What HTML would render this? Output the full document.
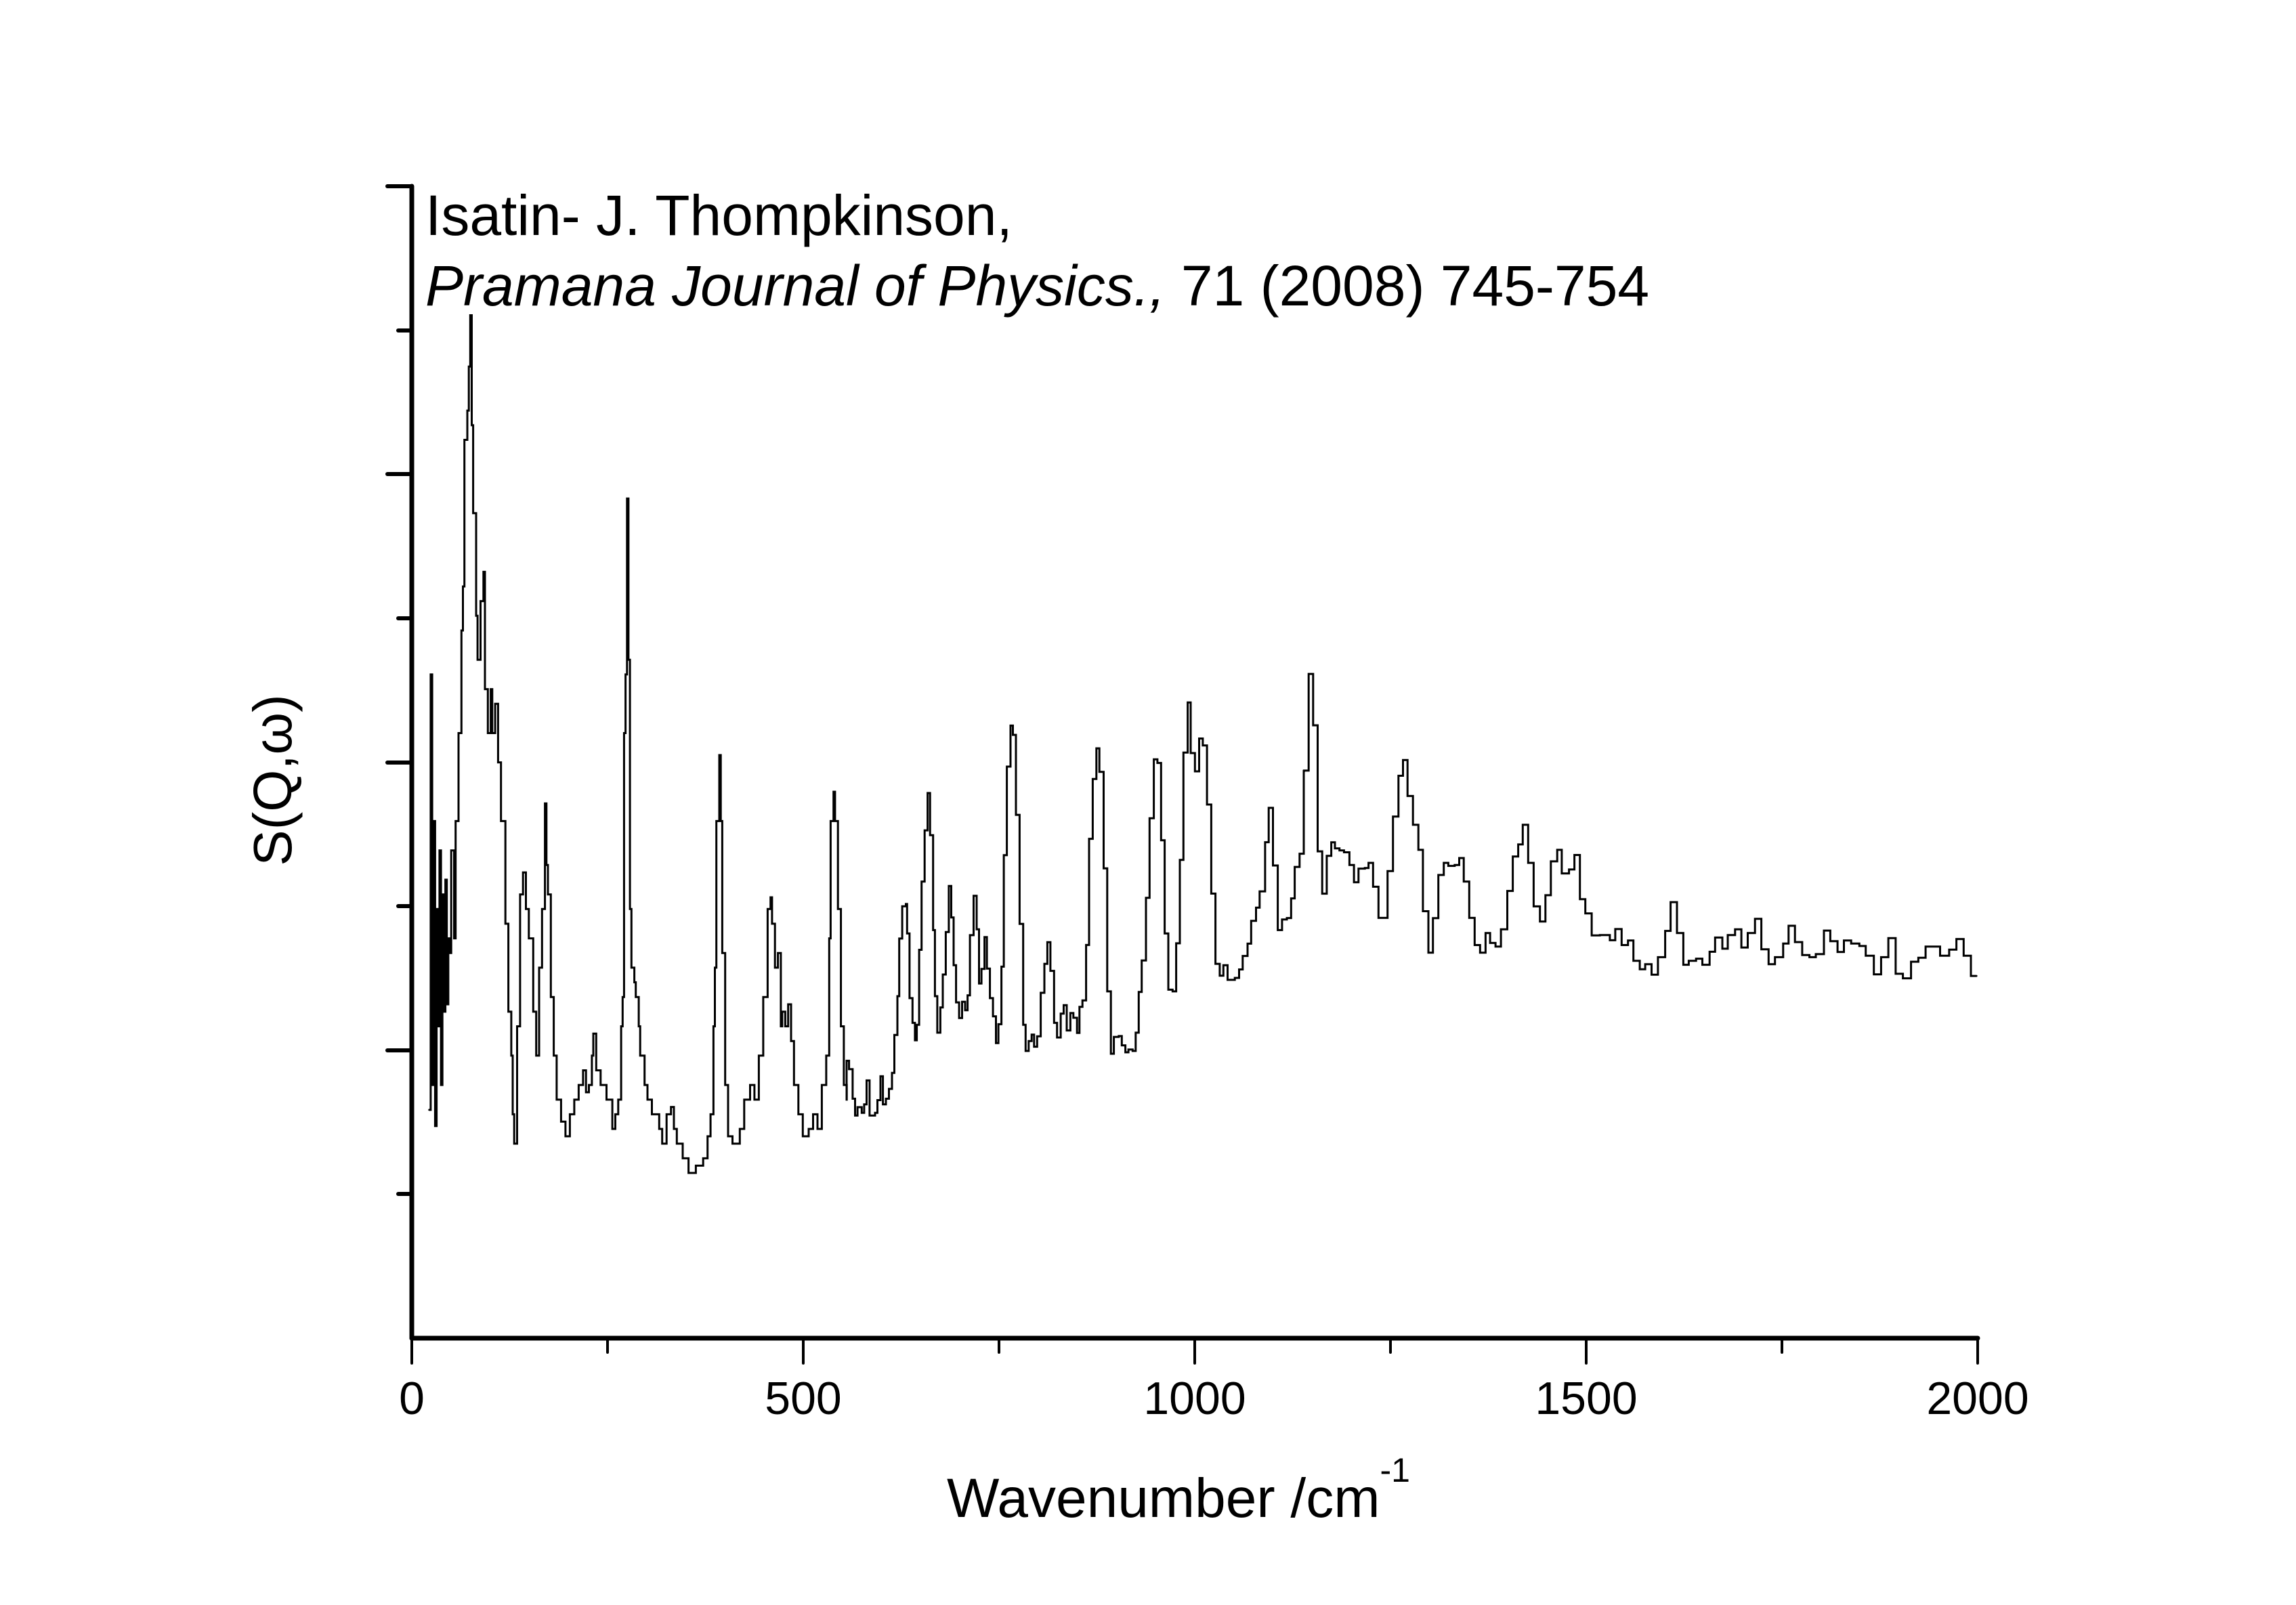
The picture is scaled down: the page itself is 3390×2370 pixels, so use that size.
<!DOCTYPE html>
<html><head><meta charset="utf-8"><style>
html,body{margin:0;padding:0;background:#fff}
svg{display:block}
text{font-family:"Liberation Sans",Arial,sans-serif;fill:#000}
</style></head><body>
<svg id="s" width="3390" height="2370" viewBox="0 0 3390 2370" xmlns="http://www.w3.org/2000/svg">
<rect width="3390" height="2370" fill="#fff"/>
<g stroke="#000" fill="none" stroke-linecap="round">
<line x1="608" y1="275" x2="608" y2="1976" stroke-width="7"/>
<line x1="608" y1="1976" x2="2920" y2="1976" stroke-width="7"/>
<g stroke-width="6">
<line x1="572" y1="275" x2="608" y2="275"/><line x1="588" y1="488" x2="608" y2="488"/>
<line x1="572" y1="700" x2="608" y2="700"/><line x1="588" y1="913" x2="608" y2="913"/>
<line x1="572" y1="1126" x2="608" y2="1126"/><line x1="588" y1="1338" x2="608" y2="1338"/>
<line x1="572" y1="1551" x2="608" y2="1551"/><line x1="588" y1="1763" x2="608" y2="1763"/>
</g>
<g stroke-width="4">
<line x1="608" y1="1976" x2="608" y2="2013"/><line x1="897" y1="1976" x2="897" y2="1997"/>
<line x1="1186" y1="1976" x2="1186" y2="2013"/><line x1="1475" y1="1976" x2="1475" y2="1997"/>
<line x1="1764" y1="1976" x2="1764" y2="2013"/><line x1="2053" y1="1976" x2="2053" y2="1997"/>
<line x1="2342" y1="1976" x2="2342" y2="2013"/><line x1="2631" y1="1976" x2="2631" y2="1997"/>
<line x1="2920" y1="1976" x2="2920" y2="2013"/>
</g>
<polyline id="d" stroke-width="3" stroke-linejoin="miter" points=""/>
</g>
<g font-size="68" text-anchor="middle">
<text x="608" y="2088">0</text><text x="1186" y="2088">500</text><text x="1764" y="2088">1000</text><text x="2342" y="2088">1500</text><text x="2920" y="2088">2000</text>
</g>
<text x="1740" y="2240" font-size="82" text-anchor="middle">Wavenumber /cm<tspan font-size="50" dy="-52">-1</tspan></text>
<text transform="translate(430,1152) rotate(-90)" font-size="80" text-anchor="middle">S(Q,ω)</text>
<text x="628" y="347" font-size="84">Isatin- J. Thompkinson,</text>
<text x="628" y="451" font-size="84"><tspan font-style="italic">Pramana Journal of Physics.,</tspan> 71 (2008) 745-754</text>
</svg>
<script>
var p=[293,757,294,460,295,740,296,560,297,768,298,620,299,700,300,580,301,740,302,610,303,690,304,600,305,685,306,640,307,650,308,580,310,640,311,560,313,500,315,430,316,400,317,300,319,280,320,250,321,215,322,290,323,350,325,420,326,450,328,410,330,390,331,470,333,500,335,470,336,500,338,480,340,520,342,560,345,630,347,690,349,720,350,760,351,780,353,700,355,610,357,595,359,620,361,640,364,690,366,720,368,660,370,620,372,548,373,590,374,610,376,680,378,720,380,750,383,765,386,775,389,760,392,750,395,740,398,730,400,745,402,740,404,720,405,705,407,730,410,740,414,750,418,770,420,760,422,750,424,700,425,680,426,500,427,460,428,340,429,450,430,620,431,660,433,670,434,680,436,700,437,720,440,740,442,750,445,760,447,760,450,770,452,780,455,760,458,755,460,770,462,780,466,790,470,800,475,795,480,790,483,775,485,760,487,700,488,660,489,560,491,515,492,560,493,650,495,740,497,775,500,780,505,770,508,750,512,740,515,750,518,720,521,680,524,620,526,612,527,630,529,660,531,650,533,700,534,690,536,700,538,685,540,710,542,740,545,760,548,775,552,770,555,760,558,770,561,740,564,720,566,640,567,560,569,540,570,560,572,620,574,700,576,740,578,750];
var z2=[0,1365,8,1395,20,1500,28,1560,36,1530,50,1550,58,1520,66,1435,76,1560,94,1550,102,1505,112,1420,120,1520,130,1500,140,1465,150,1408,158,1273,168,1135,174,930,184,815,196,807,200,912,208,1142,218,1230,226,1292,232,1237,240,970,248,727,258,545,268,412,276,562,286,900,292,1135,300,1265,310,1175,318,1058,328,907,338,743,346,855,354,1025,362,1157,372,1213,382,1155,392,1185,400,1132,408,918,420,778,430,897,438,1090,446,1038,456,925,464,1037,474,1142,484,1207,494,1302,502,1235,512,1030,520,633,530,318,542,172,550,205,560,490,572,878,584,1237,592,1330,602,1295,612,1272,620,1315,630,1278,642,1123,654,1020,664,943,674,1045,686,1230,696,1282,708,1197,718,1167,728,1257,740,1195,750,1212,762,1266,770,1173,780,1150,792,953,802,575,814,362,826,253,836,337,850,680,862,1118,874,1340,884,1280,900,1277,910,1310,922,1335,932,1325,946,1330,956,1265,966,1120,976,1008,990,785,1002,502,1016,292,1028,305,1040,580,1052,912,1064,1112,1078,1118,1090,947,1102,650,1114,268,1128,90,1138,270,1152,335,1166,218,1178,243,1192,453,1206,770,1220,1020,1234,1062,1246,1025,1260,1077,1284,1070,1298,1040,1310,992,1326,948,1338,867,1354,820,1366,762,1384,587,1396,465,1410,670,1426,900,1440,862,1456,857,1470,787,1482,675,1498,628,1512,333];
var z1=[38,533,48,213,58,383,68,800,78,940,88,815,98,770,106,790,116,797,126,803,138,845,148,902,158,857,172,855,180,838,190,917,202,1020,222,865,234,685,246,550,256,498,266,617,278,712,290,795,300,998,312,1135,322,1021,334,878,346,838,356,848,370,845,380,822,390,900,402,1020,414,1110,426,1135,438,1070,448,1103,460,1115,472,1058,486,931,498,817,510,777,520,712,532,838,544,982,558,1032,570,945,582,833,596,795,606,873,622,860,634,812,646,958,658,1005,672,1078,690,1077,712,1094,724,1057,738,1110,752,1095,764,1162,778,1190,790,1173,804,1208,818,1150,834,1063,846,968,860,1070,874,1175,886,1162,902,1155,916,1175,932,1132,944,1085,960,1122,972,1077,988,1058,1002,1118,1016,1070,1032,1023,1046,1124,1062,1173,1076,1150,1094,1105,1106,1046,1120,1100,1136,1143,1152,1150,1166,1140,1184,1062,1198,1097,1214,1133,1228,1095,1244,1105,1262,1113,1276,1145,1294,1207,1310,1150,1326,1087,1342,1205,1358,1220,1376,1165,1392,1152,1408,1115,1440,1145,1460,1125,1476,1090,1492,1145,1508,1212,1520,1212];
var P=[],i;
for(i=0;i<p.length;i+=2)P.push([p[i]*2.163,p[i+1]*2.165]);
for(i=0;i<z2.length;i+=2)P.push([1250+z2[i]/2.24,1000+z2[i+1]/2.41]);
for(i=0;i<z1.length;i+=2)P.push([1900+z1[i]/1.493,900+z1[i+1]/2.24]);
var s="";
for(i=0;i<P.length;i++){var x=P[i][0].toFixed(1),y=P[i][1].toFixed(1);
if(i>0)s+=x+","+P[i-1][1].toFixed(1)+" ";s+=x+","+y+" ";}
document.getElementById("d").setAttribute("points",s);
</script>
</body></html>
